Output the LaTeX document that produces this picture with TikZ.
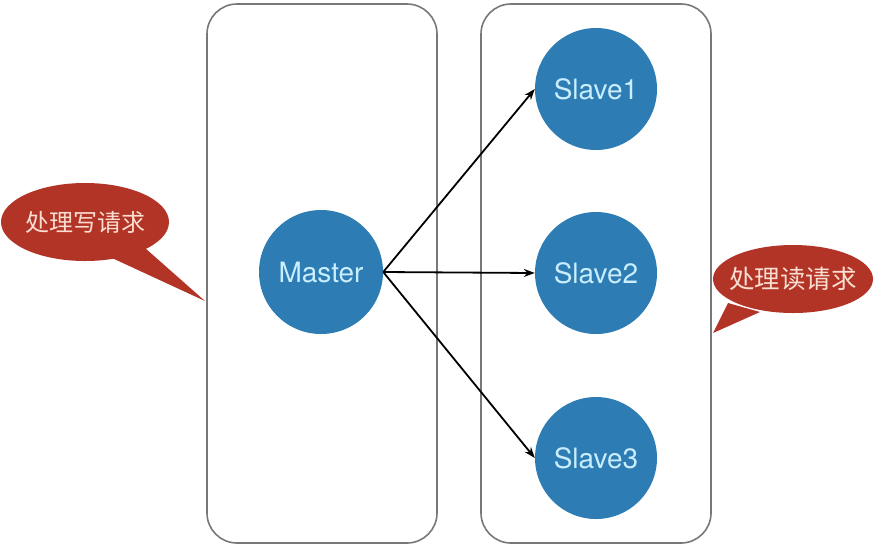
\documentclass[tikz,border=0pt]{standalone}
\usepackage{fontspec}
\setmainfont{TeX Gyre Heros}
\newfontfamily\cjk{Noto Sans CJK SC}
\usetikzlibrary{arrows.meta,shapes.geometric}
\definecolor{nodeblue}{RGB}{46,124,180}
\definecolor{nodetext}{RGB}{200,238,255}
\definecolor{calloutred}{RGB}{178,52,38}
\definecolor{callouttext}{RGB}{250,222,210}
\definecolor{boxgray}{RGB}{120,120,120}
\tikzset{
  groupbox/.style={draw=boxgray, line width=1.6pt, rounded corners=30pt},
  server/.style={circle, fill=nodeblue, text=nodetext, inner sep=0pt, font=\fontsize{28}{32}\selectfont},
  link/.style={-{Stealth[length=11pt,width=8pt]}, line width=1.8pt, black},
  bubbletext/.style={text=callouttext, inner sep=0pt}
}
\begin{document}
\begin{tikzpicture}[x=1pt,y=-1pt]
\useasboundingbox (0,0) rectangle (882,547);
% group boxes
\draw[groupbox] (207,4) rectangle (437,543);
\draw[groupbox] (481,4) rectangle (711,543);
% servers
\node[server, minimum size=124pt] (master) at (321,272) {Master};
\node[server, minimum size=122pt] (s1) at (596,89) {Slave1};
\node[server, minimum size=122pt] (s2) at (596,273) {Slave2};
\node[server, minimum size=122pt] (s3) at (596,458) {Slave3};
% connectors
\draw[link] (master.east) -- (s1.west);
\draw[link] (master.east) -- (s2.west);
\draw[link] (master.east) -- (s3.west);
% callouts
\coordinate (lc) at (85,222);
\coordinate (ltip) at (205,301);
\fill[calloutred] (145,248) -- (ltip) -- (112,258) -- cycle;
\fill[calloutred] (lc) ellipse [x radius=84pt, y radius=39pt];
\node[bubbletext, font=\cjk\fontsize{24}{28}\selectfont] (wbubble) at (lc) {处理写请求};
\coordinate (rc) at (793,279);
\coordinate (rtip) at (713,333);
\fill[calloutred] (728,303) -- (rtip) -- (760,312) -- cycle;
\fill[calloutred] (rc) ellipse [x radius=80pt, y radius=34pt];
\node[bubbletext, font=\cjk\fontsize{25.5}{29}\selectfont] (rbubble) at (rc) {处理读请求};
\end{tikzpicture}
\end{document}
